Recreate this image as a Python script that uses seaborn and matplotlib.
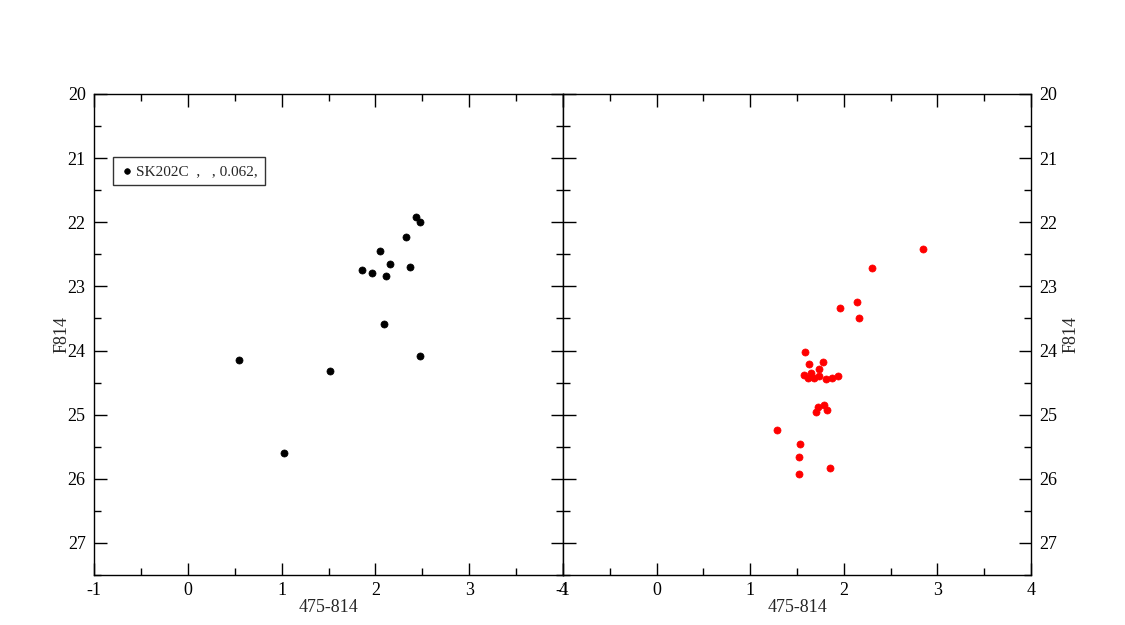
import matplotlib
matplotlib.use("Agg")
import matplotlib.pyplot as plt
import seaborn as sns
import pandas as pd
from matplotlib.ticker import MultipleLocator

sns.set_style("white")
plt.rcParams['font.family'] = ['Liberation Serif', 'DejaVu Serif']
plt.rcParams['axes.unicode_minus'] = False

# Left panel (black) data
left_color = [2.43, 2.48, 2.33, 2.05, 2.16, 2.37, 1.86, 1.96, 2.11, 2.09, 2.48, 0.55, 1.03, 1.52]
left_mag = [21.92, 22.00, 22.23, 22.45, 22.65, 22.70, 22.75, 22.79, 22.84, 23.59, 24.08, 24.15, 25.59, 24.32]

# Right panel (red) data
right_color = [2.85, 2.30, 2.14, 1.96, 2.16, 1.59, 1.63, 1.78, 1.73, 1.57, 1.62, 1.65, 1.68,
               1.74, 1.81, 1.87, 1.94, 1.72, 1.79, 1.70, 1.82, 1.29, 1.53, 1.52, 1.85, 1.52]
right_mag = [22.42, 22.72, 23.25, 23.33, 23.50, 24.03, 24.21, 24.18, 24.29, 24.38, 24.43, 24.35, 24.43,
             24.40, 24.45, 24.43, 24.40, 24.88, 24.85, 24.96, 24.93, 25.24, 25.46, 25.66, 25.83, 25.93]

legend_label = "SK202C  ,   , 0.062,"
x_label = "475-814"
y_label = "F814"

FS = 13

fig = plt.figure(figsize=(11.25, 6.25), dpi=100)
axL = fig.add_axes([94/1125, 50/625, 469/1125, 481/625])
axR = fig.add_axes([563/1125, 50/625, 468/1125, 481/625])

dfL = pd.DataFrame({"c": left_color, "m": left_mag})
dfR = pd.DataFrame({"c": right_color, "m": right_mag})

sns.scatterplot(data=dfL, x="c", y="m", ax=axL, color="black", marker="o", s=26,
                edgecolor="black", linewidth=0.5, label=legend_label)
sns.scatterplot(data=dfR, x="c", y="m", ax=axR, color="red", marker="o", s=26,
                edgecolor="red", linewidth=0.5, legend=False)

for ax in (axL, axR):
    ax.set_xlim(-1, 4)
    ax.set_ylim(27.5, 20)
    ax.xaxis.set_major_locator(MultipleLocator(1))
    ax.xaxis.set_minor_locator(MultipleLocator(0.5))
    ax.yaxis.set_major_locator(MultipleLocator(1))
    ax.yaxis.set_minor_locator(MultipleLocator(0.5))
    ax.tick_params(which="both", direction="in", top=True, right=True, bottom=True, left=True,
                   colors="black", labelsize=FS, width=1)
    ax.tick_params(which="major", length=9)
    ax.tick_params(which="minor", length=5)
    for sp in ax.spines.values():
        sp.set_color("black")
        sp.set_linewidth(1)
    ax.set_xlabel(x_label, fontsize=FS, labelpad=0)
    ax.grid(False)

axL.set_ylabel(y_label, fontsize=FS, labelpad=-2)
axR.set_ylabel(y_label, fontsize=FS, labelpad=4)
axR.yaxis.set_label_position("right")
axR.tick_params(axis="y", labelleft=False, labelright=True)
axL.tick_params(axis="y", pad=6)
axR.tick_params(axis="y", pad=6)
axL.tick_params(axis="x", pad=5)
axR.tick_params(axis="x", pad=5)

leg = axL.legend(loc="upper left", bbox_to_anchor=(0.04, 0.868), frameon=True, fancybox=False,
                 edgecolor="black", fontsize=11, handletextpad=0.1, borderpad=0.45,
                 markerscale=0.8, handlelength=1.0, borderaxespad=0)
leg.get_frame().set_linewidth(1)

fig.savefig("out.png", dpi=100, facecolor="white")
